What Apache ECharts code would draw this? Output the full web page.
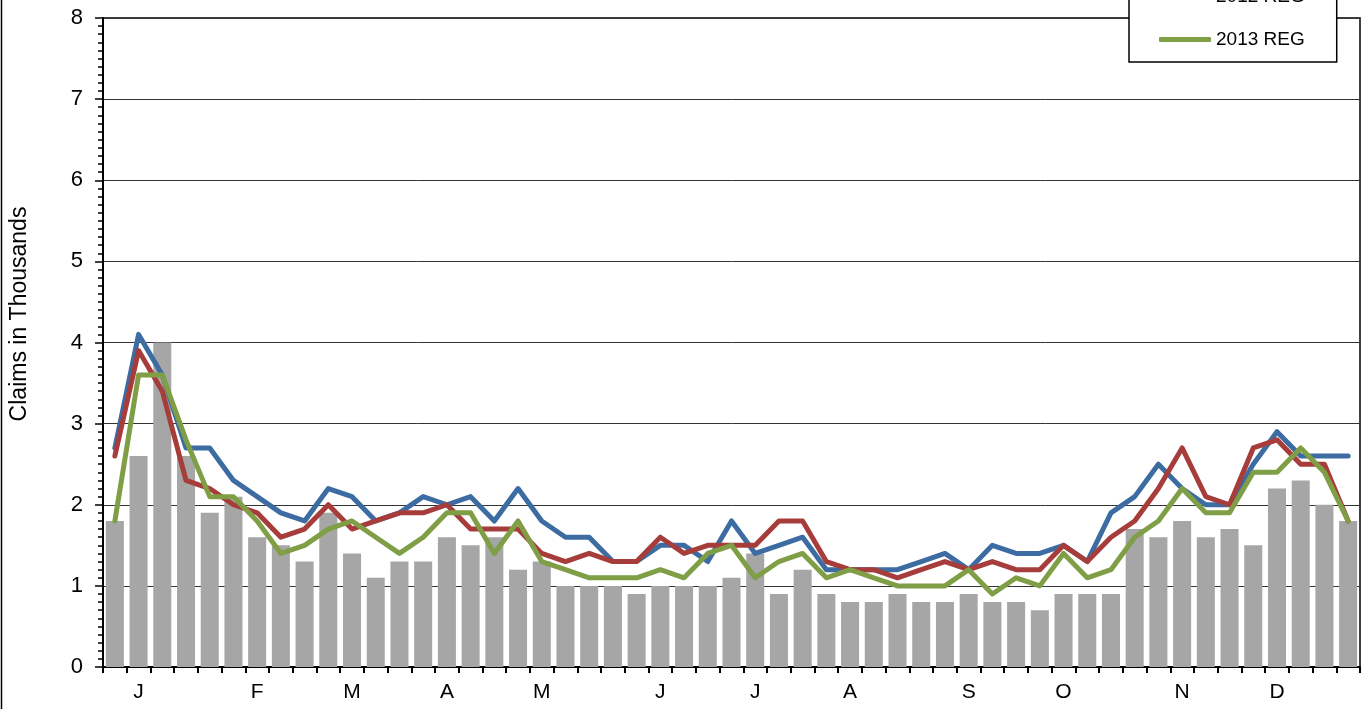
<!DOCTYPE html>
<html>
<head>
<meta charset="utf-8">
<script src="https://cdn.jsdelivr.net/npm/echarts@6/dist/echarts.min.js"></script>
<style>
html,body{margin:0;padding:0;background:#fff;}
#c{width:1369px;height:709px;}
</style>
</head>
<body>
<div id="c"></div>
<script>
// Weeks of the year (categories)
var weeks = ['1','2','3','4','5','6','7','8','9','10','11','12','13','14','15','16','17','18','19','20',
  '21','22','23','24','25','26','27','28','29','30','31','32','33','34','35','36','37','38','39','40',
  '41','42','43','44','45','46','47','48','49','50','51','52','53'];
// Month tick labels (one per week, blank where no label)
var monthLabels = ['','J','','','','','F','','','','M','','','','A','','','','M','',
  '','','','J','','','','J','','','','A','','','','','S','','','',
  'O','','','','','N','','','','D','','',''];
var yTicks = [0,1,2,3,4,5,6,7,8];

var bars2014 = [1.8,2.6,4.0,2.6,1.9,2.1,1.6,1.5,1.3,1.9,1.4,1.1,1.3,1.3,1.6,1.5,1.6,1.2,1.3,1.0,
  1.0,1.0,0.9,1.0,1.0,1.0,1.1,1.4,0.9,1.2,0.9,0.8,0.8,0.9,0.8,0.8,0.9,0.8,0.8,0.7,
  0.9,0.9,0.9,1.7,1.6,1.8,1.6,1.7,1.5,2.2,2.3,2.0,1.8];
var reg2011 = [2.7,4.1,3.6,2.7,2.7,2.3,2.1,1.9,1.8,2.2,2.1,1.8,1.9,2.1,2.0,2.1,1.8,2.2,1.8,1.6,
  1.6,1.3,1.3,1.5,1.5,1.3,1.8,1.4,1.5,1.6,1.2,1.2,1.2,1.2,1.3,1.4,1.2,1.5,1.4,1.4,
  1.5,1.3,1.9,2.1,2.5,2.2,2.0,2.0,2.5,2.9,2.6,2.6,2.6];
var reg2012 = [2.6,3.9,3.4,2.3,2.2,2.0,1.9,1.6,1.7,2.0,1.7,1.8,1.9,1.9,2.0,1.7,1.7,1.7,1.4,1.3,
  1.4,1.3,1.3,1.6,1.4,1.5,1.5,1.5,1.8,1.8,1.3,1.2,1.2,1.1,1.2,1.3,1.2,1.3,1.2,1.2,
  1.5,1.3,1.6,1.8,2.2,2.7,2.1,2.0,2.7,2.8,2.5,2.5,1.8];
var reg2013 = [1.8,3.6,3.6,2.8,2.1,2.1,1.8,1.4,1.5,1.7,1.8,1.6,1.4,1.6,1.9,1.9,1.4,1.8,1.3,1.2,
  1.1,1.1,1.1,1.2,1.1,1.4,1.5,1.1,1.3,1.4,1.1,1.2,1.1,1.0,1.0,1.0,1.2,0.9,1.1,1.0,
  1.4,1.1,1.2,1.6,1.8,2.2,1.9,1.9,2.4,2.4,2.7,2.4,1.8];

var font = 'Liberation Sans, Arial, sans-serif';
var chart = echarts.init(document.getElementById('c'));
function lineSeries(name, data, color) {
  return {
    name: name, type: 'line', data: data, symbol: 'none', z: 3,
    lineStyle: {color: color, width: 5, cap: 'round', join: 'round'},
    itemStyle: {color: color}
  };
}
chart.setOption({
  animation: false,
  backgroundColor: '#fff',
  grid: {left: 103, right: 9, top: 18, bottom: 42, show: true, borderColor: '#000', borderWidth: 1.5, backgroundColor: 'transparent'},
  legend: {
    data: ['2012 REG', '2013 REG'],
    orient: 'vertical',
    left: 1129, top: -25,
    padding: [12, 32, 13, 30],
    itemGap: 24,
    itemWidth: 52, itemHeight: 5,
    icon: 'roundRect',
    backgroundColor: '#fff',
    borderColor: '#000', borderWidth: 1.5,
    textStyle: {fontFamily: font, fontSize: 19, color: '#000'}
  },
  xAxis: {
    type: 'category', data: weeks, boundaryGap: true,
    axisLine: {lineStyle: {color: '#000', width: 2}},
    axisTick: {show: true, interval: 0, length: 6, lineStyle: {color: '#000', width: 2}},
    axisLabel: {interval: 0, margin: 15, fontFamily: font, fontSize: 21, color: '#000',
      formatter: function (v, i) { return monthLabels[i]; }},
    splitLine: {show: false}
  },
  yAxis: {
    type: 'value', min: yTicks[0], max: yTicks[yTicks.length - 1], interval: 1,
    axisLine: {show: true, lineStyle: {color: '#000', width: 2}},
    axisTick: {show: true, length: 8, lineStyle: {color: '#000', width: 1.5}},
    minorTick: {show: true, splitNumber: 10, length: 5, lineStyle: {color: '#000', width: 1.5}},
    axisLabel: {margin: 20, fontFamily: font, fontSize: 22, color: '#000'},
    splitLine: {show: true, lineStyle: {color: '#333', width: 1}}
  },
  graphic: [
    {type: 'text', x: 20, y: 314, rotation: Math.PI / 2,
      style: {text: 'Claims in Thousands', font: '23px ' + font, fill: '#000', align: 'center', verticalAlign: 'middle'}},
    {type: 'line', shape: {x1: 1.5, y1: 0, x2: 1.5, y2: 709}, style: {stroke: '#000', lineWidth: 1.5}}
  ],
  series: [
    {name: '2014 REG', type: 'bar', data: bars2014, barCategoryGap: '24%', z: 2,
      itemStyle: {color: '#a6a6a6'}},
    lineSeries('2011 REG', reg2011, '#3d6ca3'),
    lineSeries('2012 REG', reg2012, '#a63d3b'),
    lineSeries('2013 REG', reg2013, '#7f9e45')
  ]
});
</script>
</body>
</html>
